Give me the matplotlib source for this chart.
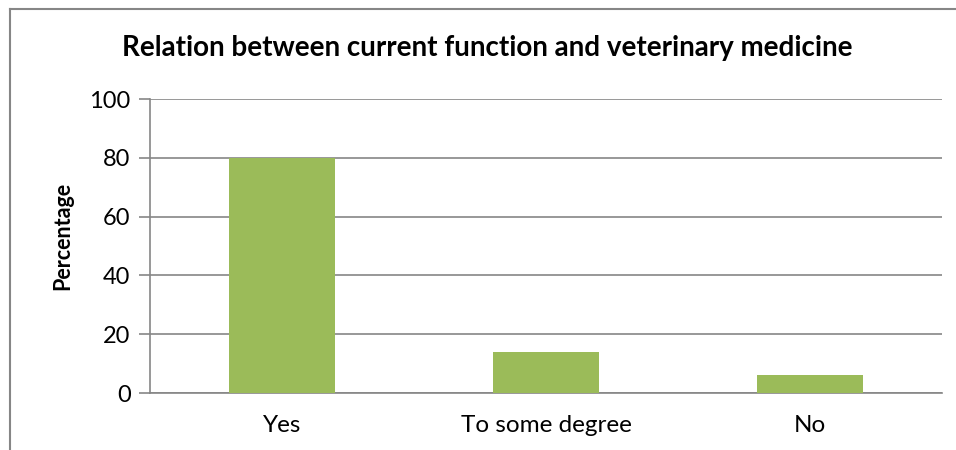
import matplotlib.pyplot as plt
from matplotlib.lines import Line2D

# Survey answers (percent of respondents)
categorias = ['Yes', 'To some degree', 'No']
porcentajes = [80, 14, 6]
yticks = [0, 20, 40, 60, 80, 100]

plt.rcParams['font.family'] = ['Lato', 'DejaVu Sans']

fig = plt.figure(figsize=(9.56, 4.5), dpi=100)
ax = fig.add_axes([150 / 956, 1 - 393 / 450, 792 / 956, 294 / 450])

gris = '#868686'
ax.bar(range(len(categorias)), porcentajes, width=0.4, color='#9BBB59', zorder=3)
ax.set_xlim(-0.5, len(categorias) - 0.5)
ax.set_ylim(0, 100)
ax.set_yticks(yticks)
ax.set_xticks(range(len(categorias)))
ax.set_xticklabels(categorias)
ax.grid(axis='y', color=gris, linewidth=1.2, zorder=0)

for lado in ['top', 'right']:
    ax.spines[lado].set_visible(False)
for lado in ['left', 'bottom']:
    ax.spines[lado].set_color(gris)
    ax.spines[lado].set_linewidth(1.2)

ax.tick_params(axis='y', length=8, width=1.2, color=gris, labelsize=17, pad=6)
ax.tick_params(axis='x', length=0, labelsize=17.5, pad=16)

ax.set_ylabel('Percentage', fontsize=15.5, fontweight='bold')
ax.yaxis.set_label_coords(-0.097, 0.535)
fig.text(0.51, 1 - 48 / 450, 'Relation between current function and veterinary medicine',
         ha='center', va='center', fontsize=20, fontweight='bold')

# Chart frame: top and left edges only
y_top = 1 - 9 / 450
x_left = 10 / 956
fig.add_artist(Line2D([x_left, 1], [y_top, y_top], transform=fig.transFigure,
                      color=gris, linewidth=1.5))
fig.add_artist(Line2D([x_left, x_left], [0, y_top], transform=fig.transFigure,
                      color=gris, linewidth=1.5))

plt.savefig('out.png', dpi=100)
